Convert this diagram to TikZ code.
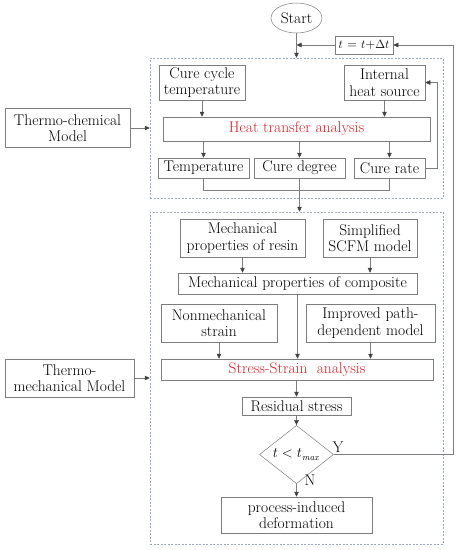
\documentclass[tikz,border=0pt]{standalone}
\usepackage{amsmath}
\usetikzlibrary{positioning,arrows.meta,shapes.geometric}
\definecolor{boxgray}{RGB}{125,125,125}
\definecolor{linegray}{RGB}{125,125,125}
\definecolor{tipgray}{RGB}{65,65,65}
\definecolor{zoneblue}{RGB}{150,170,188}
\definecolor{heatred}{RGB}{222,30,40}
\tikzset{
  flowarrow/.style={-{Triangle[length=5pt,width=4.5pt,color=tipgray]}, draw=linegray, line width=0.5pt},
  plainline/.style={draw=linegray, line width=0.5pt},
  procbox/.style={draw=boxgray, line width=0.5pt, fill=white, inner sep=1pt, align=center},
  zone/.style={draw=zoneblue, dash pattern=on 2pt off 1.5pt, line width=0.5pt, inner sep=0pt},
  startnode/.style={draw=boxgray, ellipse, line width=0.5pt, minimum width=51pt, minimum height=30pt, inner sep=0pt},
  testnode/.style={draw=boxgray, diamond, line width=0.5pt, minimum width=74pt, minimum height=35pt, inner sep=0pt, font=\fontsize{13.5}{15}\selectfont},
  yesno/.style={inner sep=0pt}
}
\begin{document}
\begin{tikzpicture}[x=1pt, y=-1pt, every node/.style={font=\fontsize{15.5}{16.5}\selectfont}]
  \useasboundingbox (0,0) rectangle (459,550);
  % dashed model zones
  \node[zone, minimum width=293pt, minimum height=140pt] (zone1) at (296.5,128) {};
  \node[zone, minimum width=293pt, minimum height=332pt] (zone2) at (296.5,378) {};
  % time loop
  \node[startnode] (start) at (296.5,18) {Start};
  \node[procbox, minimum width=58pt, minimum height=18pt, font=\fontsize{13}{14}\selectfont] (tstep) at (364,45) {$t$ = $t$+$\Delta t$};
  \coordinate (merge) at (296.5,45);
  \coordinate (rightrail) at (453,0);
  % thermo-chemical part
  \node[procbox, minimum width=125pt, minimum height=39pt] (tcm) at (67.5,128) {Thermo-chemical\\Model};
  \node[procbox, minimum width=86pt, minimum height=35pt] (cct) at (202,82.5) {Cure cycle\\temperature};
  \node[procbox, minimum width=81pt, minimum height=35pt] (ihs) at (384.5,82.5) {Internal\\heat source};
  \node[procbox, minimum width=267pt, minimum height=24pt, text=heatred] (heat) at (296.5,129) {Heat transfer analysis};
  \node[procbox, minimum width=91pt, minimum height=20pt] (temp) at (203.5,168) {Temperature};
  \node[procbox, minimum width=91pt, minimum height=20pt] (deg) at (299.5,168) {Cure degree};
  \node[procbox, minimum width=71pt, minimum height=20pt] (rate) at (389.5,168) {Cure rate};
  \coordinate (ratelink) at (437,0);
  % thermo-mechanical part
  \node[procbox, minimum width=129pt, minimum height=38pt] (tmm) at (69.5,378) {Thermo-\\mechanical Model};
  \node[procbox, minimum width=125pt, minimum height=38pt] (resin) at (242.5,238) {Mechanical\\properties of resin};
  \node[procbox, minimum width=94pt, minimum height=38pt] (scfm) at (370,238) {Simplified\\SCFM model};
  \node[procbox, minimum width=239pt, minimum height=21pt] (comp) at (297.5,283.5) {Mechanical properties of composite};
  \node[procbox, minimum width=116pt, minimum height=38pt] (nonmech) at (219,323) {Nonmechanical\\strain};
  \node[procbox, minimum width=129pt, minimum height=38pt] (pathdep) at (370.5,323) {Improved path-\\dependent model};
  \node[procbox, minimum width=272pt, minimum height=21pt, text=heatred] (stress) at (297,369.5) {Stress-Strain\ \ analysis};
  \node[procbox, minimum width=109pt, minimum height=18pt] (resid) at (296.5,406) {Residual stress};
  \node[testnode] (test) at (296.5,454.5) {$t<t_{\mathit{max}}$};
  \node[procbox, minimum width=151pt, minimum height=36pt] (deform) at (296.5,515) {process-induced\\deformation};
  \node[yesno] (yes) at (338,447) {Y};
  \node[yesno] (no) at (310,480) {N};
  % connectors
  \draw[flowarrow] (start) -- (zone1.north);
  \draw[flowarrow] (tstep.west) -- (merge);
  \draw[flowarrow] (test.east) -| (rightrail |- tstep) -- (tstep.east);
  \draw[flowarrow] (tcm.east) -- (tcm.east -| zone1.west);
  \draw[flowarrow] (cct) -- (cct |- heat.north);
  \draw[flowarrow] (ihs) -- (ihs |- heat.north);
  \draw[flowarrow] (heat.south -| temp) -- (temp);
  \draw[flowarrow] (heat.south -| deg) -- (deg);
  \draw[flowarrow] (heat.south -| rate) -- (rate);
  \draw[flowarrow] (rate.east) -| (ratelink |- ihs) -- (ihs.east);
  \draw[plainline] (temp.south) -- ++(0,12) -| (rate.south);
  \draw[flowarrow] (deg.south) -- (deg.south |- zone2.north);
  \draw[flowarrow] (tmm.east) -- (tmm.east -| zone2.west);
  \draw[flowarrow] (resin) -- (resin |- comp.north);
  \draw[flowarrow] (scfm) -- (scfm |- comp.north);
  \draw[flowarrow] (comp.south) -- (comp.south |- stress.north);
  \draw[flowarrow] (nonmech) -- (nonmech |- stress.north);
  \draw[flowarrow] (pathdep) -- (pathdep |- stress.north);
  \draw[flowarrow] (stress.south -| resid) -- (resid);
  \draw[flowarrow] (resid) -- (test);
  \draw[flowarrow] (test) -- (deform);
\end{tikzpicture}
\end{document}
